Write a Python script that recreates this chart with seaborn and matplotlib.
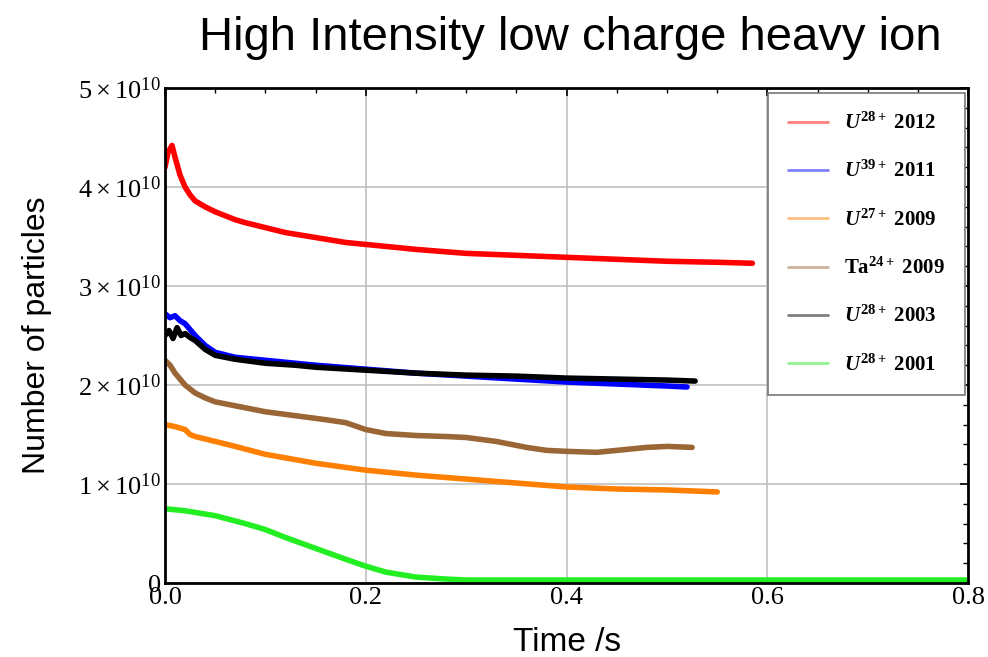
import numpy as np
import pandas as pd
import matplotlib
matplotlib.use("Agg")
import matplotlib.pyplot as plt
import seaborn as sns
from matplotlib.lines import Line2D
from matplotlib.ticker import MultipleLocator, FixedLocator, FixedFormatter

# Data (values in units of 1e10 particles)
t_u28_2012 = [0, 0.003, 0.007, 0.01, 0.015, 0.02, 0.025, 0.03, 0.04, 0.05, 0.06, 0.07, 0.08,
              0.1, 0.12, 0.15, 0.18, 0.2, 0.25, 0.3, 0.35, 0.4, 0.45, 0.5, 0.55, 0.585]
v_u28_2012 = [4.2, 4.35, 4.42, 4.3, 4.12, 4.0, 3.92, 3.86, 3.8, 3.75, 3.71, 3.67, 3.64,
              3.59, 3.54, 3.49, 3.44, 3.42, 3.37, 3.33, 3.31, 3.29, 3.27, 3.25, 3.24, 3.23]

t_u39_2011 = [0, 0.005, 0.01, 0.015, 0.02, 0.03, 0.04, 0.05, 0.07, 0.1, 0.15, 0.2, 0.25,
              0.3, 0.35, 0.4, 0.45, 0.5, 0.52]
v_u39_2011 = [2.72, 2.68, 2.7, 2.65, 2.62, 2.5, 2.4, 2.33, 2.28, 2.25, 2.2, 2.16, 2.12,
              2.09, 2.06, 2.03, 2.01, 1.99, 1.98]

t_u27_2009 = [0, 0.01, 0.02, 0.025, 0.03, 0.05, 0.07, 0.1, 0.15, 0.2, 0.25, 0.3, 0.35,
              0.4, 0.45, 0.5, 0.55]
v_u27_2009 = [1.6, 1.58, 1.55, 1.5, 1.48, 1.43, 1.38, 1.3, 1.21, 1.14, 1.09, 1.05, 1.01,
              0.97, 0.95, 0.94, 0.92]

t_ta24_2009 = [0, 0.005, 0.01, 0.02, 0.03, 0.04, 0.05, 0.07, 0.1, 0.13, 0.16, 0.18, 0.2,
               0.22, 0.25, 0.28, 0.3, 0.33, 0.36, 0.38, 0.4, 0.43, 0.46, 0.48, 0.5, 0.525]
v_ta24_2009 = [2.25, 2.2, 2.12, 2.0, 1.92, 1.87, 1.83, 1.79, 1.73, 1.69, 1.65, 1.62, 1.55,
               1.51, 1.49, 1.48, 1.47, 1.43, 1.37, 1.34, 1.33, 1.32, 1.35, 1.37, 1.38, 1.37]

t_u28_2003 = [0, 0.004, 0.008, 0.012, 0.016, 0.02, 0.025, 0.03, 0.04, 0.05, 0.07, 0.1,
              0.13, 0.15, 0.2, 0.25, 0.3, 0.35, 0.4, 0.45, 0.5, 0.528]
v_u28_2003 = [2.5, 2.55, 2.47, 2.58, 2.5, 2.52, 2.48, 2.45, 2.36, 2.3, 2.26, 2.22,
              2.2, 2.18, 2.15, 2.12, 2.1, 2.09, 2.07, 2.06, 2.05, 2.04]

t_u28_2001 = [0, 0.02, 0.05, 0.08, 0.1, 0.12, 0.15, 0.18, 0.2, 0.22, 0.25, 0.28, 0.3,
              0.35, 0.4, 0.5, 0.6, 0.7, 0.8]
v_u28_2001 = [0.75, 0.73, 0.68, 0.6, 0.54, 0.46, 0.35, 0.24, 0.17, 0.11, 0.06, 0.04, 0.03,
              0.03, 0.03, 0.03, 0.03, 0.03, 0.03]

series_names = ["U28+ 2012", "U39+ 2011", "U27+ 2009", "Ta24+ 2009", "U28+ 2003", "U28+ 2001"]
legend_labels = [r"$\mathit{U}^{\mathbf{28+}}$ 2012", r"$\mathit{U}^{\mathbf{39+}}$ 2011",
                 r"$\mathit{U}^{\mathbf{27+}}$ 2009", r"$\mathbf{Ta}^{\mathbf{24+}}$ 2009",
                 r"$\mathit{U}^{\mathbf{28+}}$ 2003", r"$\mathit{U}^{\mathbf{28+}}$ 2001"]
colors = ["#ff0000", "#0000ff", "#ff8000", "#9a6636", "#000000", "#22ee22"]
all_t = [t_u28_2012, t_u39_2011, t_u27_2009, t_ta24_2009, t_u28_2003, t_u28_2001]
all_v = [v_u28_2012, v_u39_2011, v_u27_2009, v_ta24_2009, v_u28_2003, v_u28_2001]

frames = []
for name, t, v in zip(series_names, all_t, all_v):
    frames.append(pd.DataFrame({"time": t, "particles": np.array(v) * 1e10, "series": name}))
df = pd.concat(frames, ignore_index=True)

sns.set_style("white")
plt.rcParams["text.color"] = "black"
plt.rcParams["axes.labelcolor"] = "black"
plt.rcParams["mathtext.fontset"] = "custom"
plt.rcParams["mathtext.rm"] = "Liberation Serif"
plt.rcParams["mathtext.it"] = "Liberation Serif:italic:bold"
plt.rcParams["mathtext.bf"] = "Liberation Serif:bold"

fig = plt.figure(figsize=(9.88, 6.57), dpi=100)
ax = fig.add_axes([0.167, 0.1126, 0.813, 0.7534])

palette = dict(zip(series_names, colors))
# draw order: lower curves first, black on top of blue, red last
draw_order = ["U28+ 2001", "U27+ 2009", "Ta24+ 2009", "U39+ 2011", "U28+ 2003", "U28+ 2012"]
for name in draw_order:
    sns.lineplot(data=df[df["series"] == name], x="time", y="particles", color=palette[name],
                 lw=4, ax=ax, legend=False, sort=False, estimator=None)

ax.set_xlim(0, 0.8)
ax.set_ylim(0, 5e10)
ax.xaxis.set_minor_locator(MultipleLocator(0.05))
ax.yaxis.set_major_locator(FixedLocator([0, 1e10, 2e10, 3e10, 4e10, 5e10]))
ax.yaxis.set_major_formatter(FixedFormatter(["0"] + [r"$%d\times10^{10}$" % k for k in range(1, 6)]))
ax.yaxis.set_minor_locator(MultipleLocator(0.2e10))
ax.set_xticks([0, 0.2, 0.4, 0.6, 0.8])
ax.set_xticklabels(["0.0", "0.2", "0.4", "0.6", "0.8"])

ax.grid(True, which="major", color="#c0c0c0", lw=1.2)
ax.tick_params(which="both", direction="in", top=True, right=True, colors="black")
ax.tick_params(which="major", length=6, width=1.2, labelsize=19, pad=3)
ax.tick_params(which="minor", length=3.5, width=1)
for lab in ax.get_xticklabels() + ax.get_yticklabels():
    lab.set_fontfamily("Liberation Serif")
for sp in ax.spines.values():
    sp.set_color("black")
    sp.set_linewidth(2)

ax.set_xlabel("Time /s", fontsize=24, fontfamily="Liberation Sans", labelpad=13)
ax.set_ylabel("Number of particles", fontsize=23, fontfamily="Liberation Sans", labelpad=19)
fig.text(0.577, 0.942, "High Intensity low charge heavy ion", fontsize=34,
         fontfamily="Liberation Sans", ha="center", va="center")

handles = [Line2D([0], [0], color=c, lw=2, alpha=0.5) for c in colors]
leg = ax.legend(handles, legend_labels, loc="upper right", bbox_to_anchor=(0.996, 0.99),
                borderaxespad=0,
                prop={"family": "Liberation Serif", "weight": "bold", "size": 15},
                labelspacing=1.3, handlelength=1.9, handletextpad=0.8, borderpad=0.95,
                fancybox=False, framealpha=1, edgecolor="#777777")
leg.get_frame().set_linewidth(1.2)

fig.savefig("out.png", dpi=100)
